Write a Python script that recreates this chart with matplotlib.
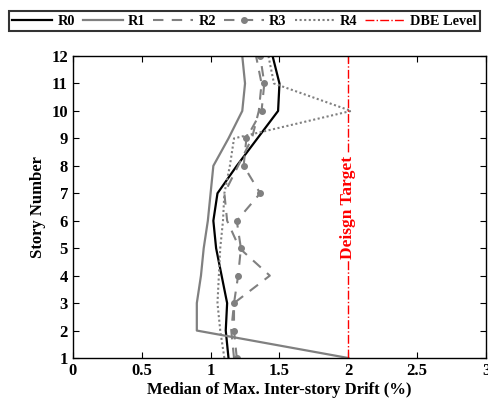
import matplotlib
matplotlib.use('Agg')
import matplotlib.pyplot as plt

plt.rcParams['font.family'] = ['Liberation Serif', 'DejaVu Serif']
plt.rcParams['font.weight'] = 'bold'

story = [1, 2, 3, 4, 5, 6, 7, 8, 9, 10, 11, 12]
r0 = [1.13, 1.11, 1.12, 1.08, 1.04, 1.02, 1.05, 1.19, 1.34, 1.49, 1.50, 1.45]
r1 = [2.00, 0.90, 0.90, 0.93, 0.95, 0.98, 1.00, 1.02, 1.13, 1.23, 1.25, 1.23]
r2 = [1.17, 1.15, 1.17, 1.43, 1.21, 1.12, 1.10, 1.20, 1.30, 1.35, 1.37, 1.33]
r3 = [1.19, 1.17, 1.17, 1.20, 1.22, 1.19, 1.36, 1.24, 1.26, 1.37, 1.39, 1.36]
r4 = [1.10, 1.07, 1.05, 1.06, 1.07, 1.09, 1.10, 1.14, 1.17, 2.02, 1.46, 1.42]
dbe = [2.0, 2.0]
dbe_story = [1, 12]

fig = plt.figure(figsize=(4.89, 4.08), dpi=100)
ax = fig.add_axes([0.149, 0.1225, 0.845, 0.7402])

gray = '#808080'
ax.plot(r0, story, color='black', lw=1.6, label='R0')
ax.plot(r1, story, color=gray, lw=1.6, label='R1')
ax.plot(r2, story, color=gray, lw=1.5, ls=(0, (5, 4)), label='R2')
ax.plot(r3, story, color=gray, lw=1.5, ls=(0, (5, 4)), marker='o',
        ms=4, mfc=gray, mec=gray, label='R3')
ax.plot(r4, story, color=gray, lw=1.5, ls=(0, (1, 1.2)), label='R4')
ax.plot(dbe, dbe_story, color='red', lw=1.0, ls='-.', label='DBE Level')

ax.text(2.0, 6.5, 'Deisgn Target', color='red', rotation=90, fontsize=12.5,
        fontweight='bold', ha='center', va='center',
        bbox=dict(facecolor='white', edgecolor='none', pad=1))

ax.set_xlim(0, 3)
ax.set_ylim(1, 12)
ax.set_xticks([0, 0.5, 1, 1.5, 2, 2.5, 3])
ax.set_xticklabels(['0', '0.5', '1', '1.5', '2', '2.5', '3'])
ax.set_yticks(story)
ax.tick_params(direction='in', top=True, right=True, labelsize=12, length=4)
for s in ax.spines.values():
    s.set_linewidth(1.0)

ax.set_xlabel('Median of Max. Inter-story Drift (%)', fontsize=12, fontweight='bold',
              labelpad=2)
ax.set_ylabel('Story Number', fontsize=12, fontweight='bold', labelpad=4)

leg = fig.legend(loc='upper center', bbox_to_anchor=(0.5, 0.99), ncol=6,
                 fancybox=False, edgecolor='black', fontsize=10.3,
                 handlelength=2.8, columnspacing=0.56, handletextpad=0.35,
                 borderpad=0.25)
leg.get_frame().set_linewidth(1.5)

fig.savefig('out.png', dpi=100)
